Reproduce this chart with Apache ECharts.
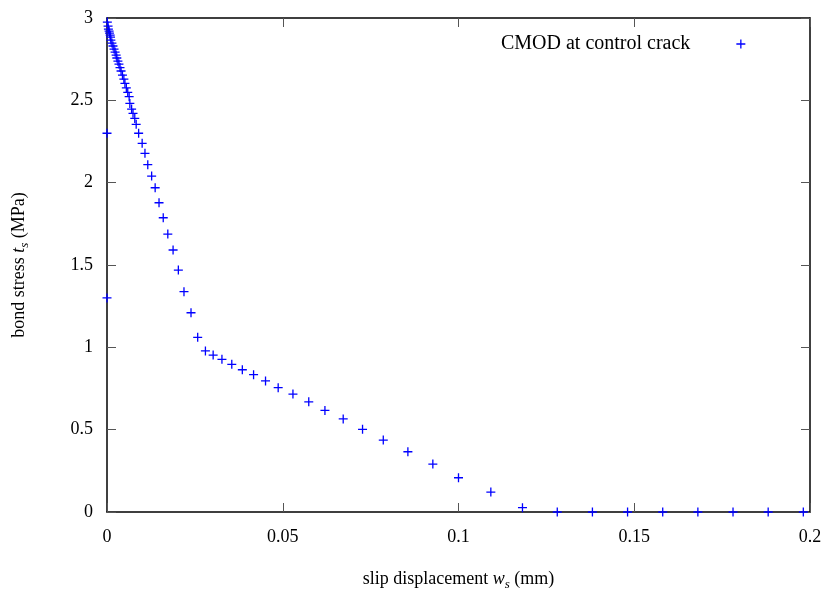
<!DOCTYPE html>
<html>
<head>
<meta charset="utf-8">
<script src="https://cdn.jsdelivr.net/npm/echarts@6/dist/echarts.min.js"></script>
<style>html,body{margin:0;padding:0;background:#fff;overflow:hidden}#c{width:827px;height:591px}</style>
</head>
<body>
<div id="c"></div>
<script>
// slip displacement w_s (mm)
const slip = [
  0, 0,
  0.0001, 0.0003, 0.0004, 0.0006, 0.0007, 0.0009, 0.0010, 0.0011, 0.0014, 0.0017,
  0.0020, 0.0023, 0.0026, 0.0028, 0.0031, 0.0034, 0.0037, 0.0040, 0.0044, 0.0048,
  0.0051, 0.0055, 0.0059, 0.0063, 0.0065, 0.0070, 0.0074, 0.0079, 0.0083, 0.0090,
  0.0100, 0.0108, 0.0116, 0.0127, 0.0137, 0.0148, 0.0160, 0.0173, 0.0188, 0.0203,
  0.0219, 0.0239, 0.0258, 0.0280, 0.0302, 0.0327, 0.0355, 0.0385, 0.0417, 0.0451,
  0.0487, 0.0529, 0.0574, 0.0620, 0.0672, 0.0727, 0.0786, 0.0856, 0.0927, 0.1000,
  0.1092, 0.1182, 0.1281, 0.1381, 0.1481, 0.1581, 0.1681, 0.1781, 0.1881, 0.1981
];
// bond stress t_s (MPa)
const stress = [
  2.30, 1.30,
  2.975, 2.951, 2.933, 2.920, 2.908, 2.896, 2.884, 2.866, 2.848, 2.830,
  2.811, 2.793, 2.775, 2.757, 2.738, 2.720, 2.699, 2.678, 2.653, 2.629,
  2.603, 2.576, 2.548, 2.522, 2.481, 2.447, 2.421, 2.390, 2.354, 2.300,
  2.239, 2.178, 2.109, 2.040, 1.969, 1.878, 1.787, 1.688, 1.591, 1.469,
  1.338, 1.210, 1.061, 0.978, 0.953, 0.927, 0.897, 0.864, 0.834, 0.796,
  0.755, 0.716, 0.669, 0.617, 0.565, 0.502, 0.437, 0.366, 0.291, 0.208,
  0.121, 0.026, 0, 0, 0, 0, 0, 0, 0, 0
];
const xTicks = [0, 0.05, 0.1, 0.15, 0.2];
const yTicks = [0, 0.5, 1, 1.5, 2, 2.5, 3];
const seriesName = 'CMOD at control crack';

const FONT = 'Liberation Serif';
const data = slip.map((x, i) => [x, stress[i]]);
const plus = 'path://M0,5L10,5M5,0L5,10';
const tickStyle = {show: true, inside: true, length: 9, lineStyle: {color: '#555', width: 1}};
const fmt = v => String(Math.round(v * 1000) / 1000);

const el = document.getElementById('c');
const chart = echarts.init(el, null, {renderer: 'canvas'});
chart.setOption({
  animation: false,
  backgroundColor: '#fff',
  grid: {left: 107, right: 17, top: 18, bottom: 79, containLabel: false, outerBoundsMode: 'none', show: false},
  legend: {
    show: true,
    right: 76, top: 29,
    align: 'right',
    icon: plus,
    itemWidth: 9, itemHeight: 9,
    itemStyle: {color: 'transparent', borderColor: '#0000ff', borderWidth: 1.3},
    textStyle: {fontFamily: FONT, fontSize: 20, color: '#000', padding: [0, 41, 0, 0]},
    data: [seriesName]
  },
  xAxis: [{
    type: 'value', min: 0, max: 0.2, interval: 0.05,
    position: 'bottom',
    axisLine: {show: true, onZero: false, lineStyle: {color: '#000', width: 1.5}},
    axisTick: tickStyle,
    splitLine: {show: false},
    axisLabel: {fontFamily: FONT, fontSize: 18, color: '#000', margin: 16, formatter: fmt},
    name: '{n|slip displacement }{i|w}{s|s}{n| (mm)}',
    nameLocation: 'middle', nameGap: 56,
    nameTextStyle: {
      fontFamily: FONT, fontSize: 18, color: '#000',
      rich: {
        n: {fontFamily: FONT, fontSize: 18, color: '#000'},
        i: {fontFamily: FONT, fontSize: 18, fontStyle: 'italic', color: '#000'},
        s: {fontFamily: FONT, fontSize: 13, fontStyle: 'italic', color: '#000', padding: [10, 0, 0, 0]}
      }
    }
  }, {
    type: 'value', min: 0, max: 0.2, interval: 0.05,
    position: 'top',
    axisLine: {show: true, onZero: false, lineStyle: {color: '#000', width: 1.5}},
    axisTick: tickStyle,
    axisLabel: {show: false},
    splitLine: {show: false}
  }],
  yAxis: [{
    type: 'value', min: 0, max: 3, interval: 0.5,
    position: 'left',
    axisLine: {show: true, onZero: false, lineStyle: {color: '#000', width: 1.5}},
    axisTick: tickStyle,
    splitLine: {show: false},
    axisLabel: {fontFamily: FONT, fontSize: 18, color: '#000', margin: 14, formatter: fmt},
    name: '{n|bond stress }{i|t}{s|s}{n| (MPa)}',
    nameLocation: 'middle', nameGap: 76, nameRotate: 90,
    nameTextStyle: {
      fontFamily: FONT, fontSize: 18, color: '#000',
      rich: {
        n: {fontFamily: FONT, fontSize: 18, color: '#000'},
        i: {fontFamily: FONT, fontSize: 18, fontStyle: 'italic', color: '#000'},
        s: {fontFamily: FONT, fontSize: 13, fontStyle: 'italic', color: '#000', padding: [10, 0, 0, 0]}
      }
    }
  }, {
    type: 'value', min: 0, max: 3, interval: 0.5,
    position: 'right',
    axisLine: {show: true, onZero: false, lineStyle: {color: '#000', width: 1.5}},
    axisTick: tickStyle,
    axisLabel: {show: false},
    splitLine: {show: false}
  }],
  series: [{
    name: seriesName,
    type: 'scatter',
    xAxisIndex: 0, yAxisIndex: 0,
    data: data,
    symbol: plus,
    symbolSize: 9,
    clip: false,
    itemStyle: {color: 'transparent', borderColor: '#0000ff', borderWidth: 1.3, opacity: 1}
  }]
});
</script>
</body>
</html>
